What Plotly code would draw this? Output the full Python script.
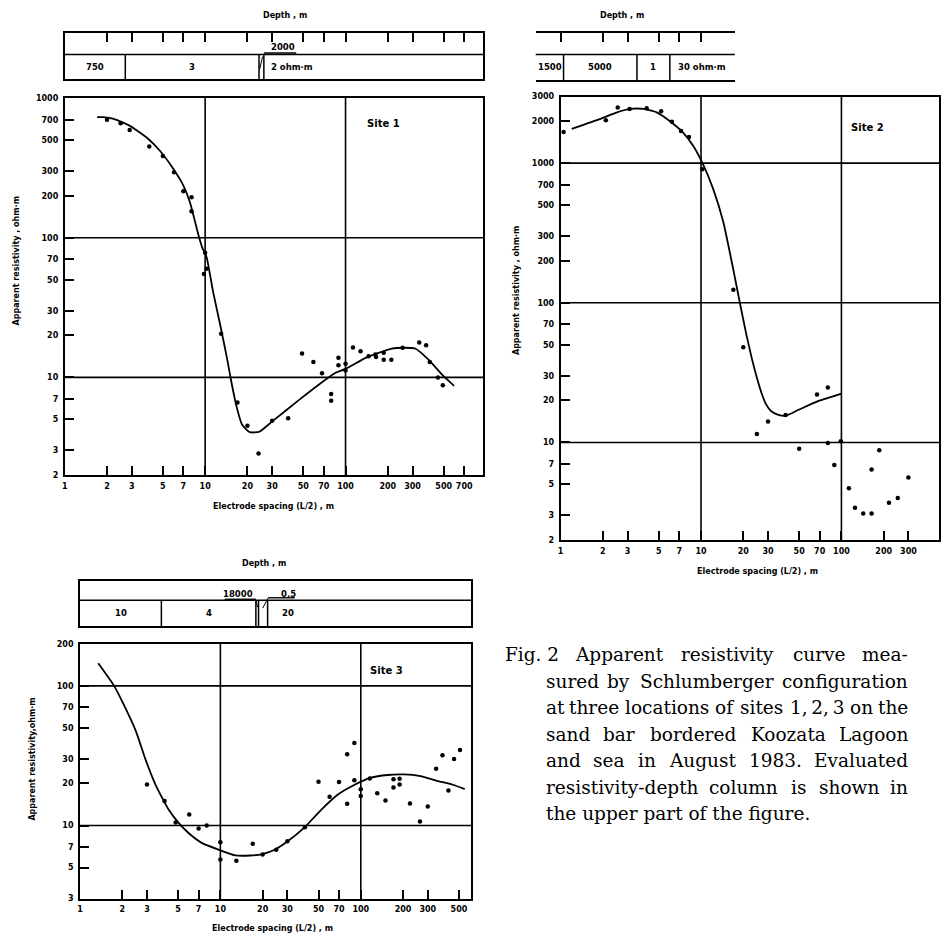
import math
import plotly.graph_objects as go

W, H = 941, 941
DEC = 141.0  # pixels per decade used by the original drafting

# ---------------- data ----------------
# Site 1
s1_x_ticks = [1, 2, 3, 5, 7, 10, 20, 30, 50, 70, 100, 200, 300, 500, 700]
s1_y_ticks = [2, 3, 5, 7, 10, 20, 30, 50, 70, 100, 200, 300, 500, 700, 1000]
s1_pts_x = [2, 2.5, 2.9, 4, 5, 6, 7, 8, 8, 10, 9.8, 10.2, 13, 17, 20, 24, 30, 39, 49, 59, 68, 79, 79,
            89, 89, 100, 100, 113, 128, 146, 163, 165, 187, 187, 212, 255, 335, 375, 398, 455, 493]
s1_pts_y = [700, 660, 590, 450, 385, 295, 215, 195, 155, 78, 55, 60, 20.5, 6.6, 4.5, 2.85, 4.9, 5.1, 14.8, 12.9, 10.7, 7.6, 6.8,
            13.8, 12.2, 12.5, 11.2, 16.4, 15.4, 14.2, 14.6, 14.0, 15.0, 13.4, 13.4, 16.3, 17.8, 17.0, 12.9, 10.0, 8.8]
s1_curve_x = [1.70, 1.89, 2.23, 2.93, 3.85, 4.78, 5.95, 7.0, 7.8, 8.5, 8.97, 9.6, 9.9, 10.3, 11.4, 12.8, 14.3, 15.5,
              16.8, 18.3, 20.8, 24.3, 30.2, 46.7, 64.7, 85, 100, 139, 172, 214, 259, 313, 390, 485, 593]
s1_curve_y = [730, 730, 710, 630, 520, 418, 310, 236, 179, 129, 104, 83.5, 79, 71, 41, 23.8, 13.8, 8.9,
              6.1, 4.6, 4.05, 4.08, 4.86, 6.9, 8.9, 10.8, 11.5, 13.8, 15.0, 16.1, 16.3, 16.1, 13.4, 10.5, 8.7]
s1_grid_x = [10, 100]
s1_grid_y = [10, 100]
s1_depth_ticks = [2, 3, 5, 7, 10, 20, 30, 50, 70, 100, 200, 300, 500, 700]
s1_layer_bounds = [2.7, 24.2, 26.2]
s1_layer_res = ["750", "3", "2000", "2 ohm·m"]

# Site 2
s2_x_ticks = [1, 2, 3, 5, 7, 10, 20, 30, 50, 70, 100, 200, 300]
s2_y_ticks = [2, 3, 5, 7, 10, 20, 30, 50, 70, 100, 200, 300, 500, 700, 1000, 2000, 3000]
s2_pts_x = [1.05, 2.1, 2.55, 3.1, 4.1, 5.2, 6.2, 7.2, 8.2, 10.2, 17, 20, 25, 30, 40, 50, 67, 80, 80, 89, 99,
            113, 125, 143, 164, 164, 186, 218, 252, 300]
s2_pts_y = [1670, 2030, 2500, 2440, 2470, 2350, 1980, 1700, 1540, 905, 124, 48, 11.5, 14.1, 15.7, 9.0, 22, 24.7, 9.9, 6.9, 10.2,
            4.7, 3.4, 3.1, 3.1, 6.4, 8.8, 3.7, 4.0, 5.6]
s2_curve_x = [1.2, 1.92, 2.52, 3.13, 3.89, 4.84, 6.01, 7.48, 8.81, 10.25, 12.2, 14.4, 16.9, 18.8, 21.0, 23.0,
              25.0, 27.0, 29.0, 31.5, 35.2, 40.0, 50.1, 69.5, 100]
s2_curve_y = [1760, 2073, 2310, 2445, 2445, 2310, 1996, 1650, 1328, 1000, 654, 380, 177, 103, 59.6, 40,
              29, 22.5, 18.8, 16.8, 15.8, 15.5, 17.2, 19.9, 22.4]
s2_grid_x = [10, 100]
s2_grid_y = [10, 100, 1000]
s2_depth_ticks = [1, 2, 3, 5, 7, 10]
s2_layer_bounds = [1.05, 3.5, 6.0]
s2_layer_res = ["1500", "5000", "1", "30 ohm·m"]

# Site 3
s3_x_ticks = [1, 2, 3, 5, 7, 10, 20, 30, 50, 70, 100, 200, 300, 500]
s3_y_ticks = [3, 5, 7, 10, 20, 30, 50, 70, 100, 200]
s3_pts_x = [3, 4, 4.8, 6, 7, 8, 10, 10, 13, 17, 20, 25, 30, 40, 50, 60, 70, 80, 80, 90, 90, 100, 100, 116, 131,
            150, 171, 171, 189, 189, 224, 264, 300, 344, 382, 421, 462, 509]
s3_pts_y = [19.7, 15, 10.5, 12, 9.5, 10, 7.6, 5.7, 5.6, 7.4, 6.2, 6.7, 7.7, 9.7, 20.6, 16.1, 20.5, 32.4, 14.3, 39, 21.1, 18.2, 16.3, 21.7, 17.0,
            15.1, 21.4, 18.7, 21.6, 19.7, 14.4, 10.7, 13.7, 25.5, 31.9, 17.8, 29.9, 34.8]
s3_curve_x = [1.35, 1.75, 2.01, 2.49, 2.94, 3.46, 4.30, 5.06, 5.96, 7.41, 9.73, 12.8, 16.3, 19.9, 24.6, 29.8,
              39.8, 52, 68.4, 89.7, 118, 155, 203, 266, 350, 459, 550]
s3_curve_y = [145, 100, 76.5, 48, 29.4, 19.5, 12.9, 10.4, 8.8, 7.48, 6.71, 6.11, 6.1, 6.25, 6.74, 7.64,
              9.7, 12.9, 16.6, 19.5, 22.0, 23.0, 23.2, 22.6, 20.9, 19.5, 18.2]
s3_grid_x = [10, 100]
s3_grid_y = [10, 100]
s3_depth_ticks = []
s3_layer_bounds = [3.8, 17.9, 18.7, 21.7]
s3_layer_res = ["10", "4", "18000", "0.5", "20"]

# caption, tokens separated by "|" (justified lines), last line ragged
caption_lines = [
    "Fig. 2|Apparent|resistivity|curve|mea-",
    "sured|by|Schlumberger|configuration",
    "at|three|locations|of|sites|1,\u20092,\u20093|on|the",
    "sand|bar|bordered|Koozata|Lagoon",
    "and|sea|in|August|1983.|Evaluated",
    "resistivity-depth|column|is|shown|in",
    "the upper part of the figure.",
]

# ---------------- helpers ----------------
def PX(x):
    return x / W

def PY(y):
    return 1 - y / H

L = math.log10
SANS = "DejaVu Sans"
SERIF = "DejaVu Serif"
tick_font = dict(family=SANS, size=8, color="black", weight="bold")
BLACK = "black"

# approximate DejaVu Serif advance widths (em) for justification
SERIF_W = {" ": .318, "\u2009": .2, "a": .596, "b": .640, "c": .560, "d": .640, "e": .592, "f": .370,
           "g": .640, "h": .644, "i": .320, "k": .606, "l": .320, "m": .948, "n": .644, "o": .602,
           "p": .640, "r": .478, "s": .513, "t": .402, "u": .644, "v": .565, "w": .856, "y": .565,
           "z": .527, "A": .722, "E": .730, "F": .694, "K": .755, "L": .653, "S": .685, ".": .318,
           ",": .318, "-": .338}

def serif_width(s, size):
    return sum(SERIF_W.get(c, .636) for c in s) * size

fig = go.Figure()
layout_axes = {}
shapes = []
annotations = []


def add_main(idx, left, top, xr, yr, xticks, yticks, px_, py_, cx, cy, gx, gy):
    xa = "xaxis" if idx == 1 else f"xaxis{idx}"
    ya = "yaxis" if idx == 1 else f"yaxis{idx}"
    xs = "x" if idx == 1 else f"x{idx}"
    ys = "y" if idx == 1 else f"y{idx}"
    right = left + (xr[1] - xr[0]) * DEC
    bottom = top + (yr[1] - yr[0]) * DEC
    layout_axes[xa] = dict(
        type="log", range=xr, domain=[PX(left), PX(right)], anchor=ys,
        tickvals=xticks, ticktext=[str(v) for v in xticks], ticks="inside", ticklen=9,
        tickwidth=1.5, tickcolor=BLACK, showline=True, mirror=True, linecolor=BLACK, linewidth=1.8,
        showgrid=False, zeroline=False, tickfont=tick_font, ticklabelstandoff=2,
    )
    layout_axes[ya] = dict(
        type="log", range=yr, domain=[PY(bottom), PY(top)], anchor=xs,
        tickvals=yticks, ticktext=[str(v) for v in yticks], ticks="inside", ticklen=9,
        tickwidth=1.5, tickcolor=BLACK, showline=True, mirror=True, linecolor=BLACK, linewidth=1.8,
        showgrid=False, zeroline=False, tickfont=tick_font, ticklabelstandoff=3,
    )
    fig.add_trace(go.Scatter(x=cx, y=cy, mode="lines", xaxis=xs, yaxis=ys,
                             line=dict(color=BLACK, width=1.8, shape="spline", smoothing=0.5),
                             showlegend=False, hoverinfo="skip"))
    fig.add_trace(go.Scatter(x=px_, y=py_, mode="markers", xaxis=xs, yaxis=ys,
                             marker=dict(color=BLACK, size=4.5), showlegend=False))
    for g in gx:
        shapes.append(dict(type="line", xref=xs, yref=f"{ys} domain", x0=g, x1=g, y0=0, y1=1,
                           line=dict(color=BLACK, width=1.6)))
    for g in gy:
        shapes.append(dict(type="line", xref=f"{xs} domain", yref=ys, x0=0, x1=1, y0=g, y1=g,
                           line=dict(color=BLACK, width=1.6)))


def add_depth(idx, left, xr, top, mid, bottom, ticks, box):
    xa, ya = f"xaxis{idx}", f"yaxis{idx}"
    xs, ys = f"x{idx}", f"y{idx}"
    right = left + (xr[1] - xr[0]) * DEC
    layout_axes[xa] = dict(
        type="log", range=xr, domain=[PX(left), PX(right)], anchor=ys, side="top",
        tickvals=ticks if ticks else [], ticks="inside" if ticks else "", ticklen=9, tickwidth=1.5,
        tickcolor=BLACK, showticklabels=False, showline=True, mirror=True, linecolor=BLACK,
        linewidth=1.6, showgrid=False, zeroline=False,
    )
    layout_axes[ya] = dict(
        range=[0, 1], domain=[PY(bottom), PY(top)], anchor=xs, showticklabels=False,
        ticks="", showgrid=False, zeroline=False, showline=box, mirror=box,
        linecolor=BLACK, linewidth=1.6,
    )
    fig.add_trace(go.Scatter(x=[10 ** ((xr[0] + xr[1]) / 2)], y=[0.5], mode="markers", xaxis=xs, yaxis=ys,
                             marker=dict(opacity=0), showlegend=False, hoverinfo="skip"))
    shapes.append(dict(type="line", xref=f"{xs} domain", yref="paper", x0=0, x1=1,
                       y0=PY(mid), y1=PY(mid), line=dict(color=BLACK, width=1.6)))
    return xs


def vline(xs, x, ytop, ybot, w=1.5):
    shapes.append(dict(type="line", xref=xs, yref="paper", x0=x, x1=x, y0=PY(ybot), y1=PY(ytop),
                       line=dict(color=BLACK, width=w)))


def seg(xs, xa_, ya_, xb_, yb_, w=1.3):
    shapes.append(dict(type="line", xref=xs, yref="paper", x0=xa_, x1=xb_, y0=PY(ya_), y1=PY(yb_),
                       line=dict(color=BLACK, width=w)))


def label(xs, xval, y, text, anchor="center", size=8.5):
    annotations.append(dict(xref=xs, yref="paper", x=L(xval), y=PY(y), text=text, showarrow=False,
                            xanchor=anchor, yanchor="middle",
                            font=dict(family=SANS, size=size, color=BLACK, weight="bold")))


def gmid(a, b):
    return 10 ** ((L(a) + L(b)) / 2)


# ---------------- Site 1 ----------------
s1_xr = [0, 2.979]
s1_yr = [L(2), L(1000)]
add_main(1, 62, 95, s1_xr, s1_yr, s1_x_ticks, s1_y_ticks, s1_pts_x, s1_pts_y, s1_curve_x, s1_curve_y,
         s1_grid_x, s1_grid_y)
d1 = add_depth(2, 62, s1_xr, 29, 51, 76, s1_depth_ticks, True)
for b in s1_layer_bounds:
    vline(d1, b, 51, 76)
b1 = s1_layer_bounds
label(d1, gmid(1, b1[0]), 64, s1_layer_res[0])
label(d1, gmid(b1[0], b1[1]), 64, s1_layer_res[1])
label(d1, b1[2] * 1.09, 43, s1_layer_res[2], anchor="left")
seg(d1, b1[2], 49.5, b1[2] * 1.7, 49.5, w=1.6)
seg(d1, b1[1] * 1.01, 66, b1[2] * 0.98, 53, w=1.0)
label(d1, b1[2] * 1.09, 64, s1_layer_res[3], anchor="left")

# ---------------- Site 2 ----------------
s2_xr = [0, 2.695]
s2_yr = [L(2), L(3000)]
add_main(3, 560, 93.4, s2_xr, s2_yr, s2_x_ticks, s2_y_ticks, s2_pts_x, s2_pts_y, s2_curve_x, s2_curve_y,
         s2_grid_x, s2_grid_y)
s2d_xr = [-0.177, 1.241]
d2 = add_depth(4, 535, s2d_xr, 29, 51, 77, s2_depth_ticks, False)
for b in s2_layer_bounds:
    vline(d2, b, 51, 77)
b2 = s2_layer_bounds
label(d2, gmid(10 ** s2d_xr[0], b2[0]), 64, s2_layer_res[0])
label(d2, gmid(b2[0], b2[1]), 64, s2_layer_res[1])
label(d2, gmid(b2[1], b2[2]), 64, s2_layer_res[2])
label(d2, b2[2] * 1.1, 64, s2_layer_res[3], anchor="left")

# ---------------- Site 3 ----------------
s3_xr = [0, 2.785]
s3_yr = [L(3), L(200)]
add_main(5, 77.3, 646, s3_xr, s3_yr, s3_x_ticks, s3_y_ticks, s3_pts_x, s3_pts_y, s3_curve_x, s3_curve_y,
         s3_grid_x, s3_grid_y)
d3 = add_depth(6, 77.3, s3_xr, 582.7, 602, 628.3, s3_depth_ticks, True)
for b in s3_layer_bounds:
    vline(d3, b, 602, 628.3)
b3 = s3_layer_bounds
label(d3, gmid(1, b3[0]), 615, s3_layer_res[0])
label(d3, gmid(b3[0], b3[1]), 615, s3_layer_res[1])
label(d3, b3[1] * 0.98, 595.5, s3_layer_res[2], anchor="right")
seg(d3, b3[1] * 0.6, 601, b3[1], 601, w=1.4)
seg(d3, b3[1], 602, b3[1] * 1.03, 609, w=1.0)
label(d3, b3[3] * 1.2, 595.5, s3_layer_res[3], anchor="left")
seg(d3, b3[3] * 1.01, 599.5, b3[3] * 1.56, 599.5, w=1.4)
seg(d3, b3[3] * 1.01, 599.5, b3[2] * 1.07, 610, w=1.0)
label(d3, b3[3] * 1.23, 615, s3_layer_res[4], anchor="left")

# ---------------- titles ----------------
def ptext(x, y, text, size=8, angle=0, family=SANS, weight="bold", anchor="center"):
    annotations.append(dict(xref="paper", yref="paper", x=PX(x), y=PY(y), text=text, showarrow=False,
                            xanchor=anchor, yanchor="middle", textangle=angle,
                            font=dict(family=family, size=size, color=BLACK, weight=weight)))

ptext(283, 12, "Depth , m")
ptext(622, 12, "Depth , m")
ptext(262, 565, "Depth , m")
ptext(272, 507, "Electrode spacing (L/2) , m")
ptext(758, 573, "Electrode spacing (L/2) , m")
ptext(271, 933, "Electrode spacing (L/2) , m")
ptext(14, 259, "Apparent resistivity , ohm·m", angle=-90)
ptext(515, 289, "Apparent resistivity , ohm·m", angle=-90)
ptext(30, 762, "Apparent resistivity,ohm·m", angle=-90)
ptext(382, 121, "Site 1", size=10)
ptext(868, 125, "Site 2", size=10)
ptext(385, 673, "Site 3", size=10)

# caption (justified like the printed one)
CAP_SIZE = 18.5
CAP_RIGHT = 911
for i, line in enumerate(caption_lines):
    x0 = 502 if i == 0 else 543
    yy = 657 + 26.8 * i
    toks = line.split("|")
    if len(toks) == 1:
        ptext(x0, yy, toks[0], size=CAP_SIZE, family=SERIF, weight="normal", anchor="left")
        continue
    ws = [serif_width(t, CAP_SIZE) for t in toks]
    gap = (CAP_RIGHT - x0 - sum(ws)) / (len(toks) - 1)
    cur = x0
    for k, (t, w) in enumerate(zip(toks, ws)):
        if k == 0:
            ptext(cur, yy, t, size=CAP_SIZE, family=SERIF, weight="normal", anchor="left")
        elif k == len(toks) - 1:
            ptext(CAP_RIGHT, yy, t, size=CAP_SIZE, family=SERIF, weight="normal", anchor="right")
        else:
            ptext(cur + w / 2, yy, t, size=CAP_SIZE, family=SERIF, weight="normal", anchor="center")
        cur += w + gap

fig.update_layout(
    width=W, height=H, margin=dict(l=0, r=0, t=0, b=0),
    paper_bgcolor="white", plot_bgcolor="rgba(0,0,0,0)",
    showlegend=False, shapes=shapes, annotations=annotations, **layout_axes,
)
fig.write_html("out.html", config={"displayModeBar": False},
               post_script="document.body.style.margin='0px';")
